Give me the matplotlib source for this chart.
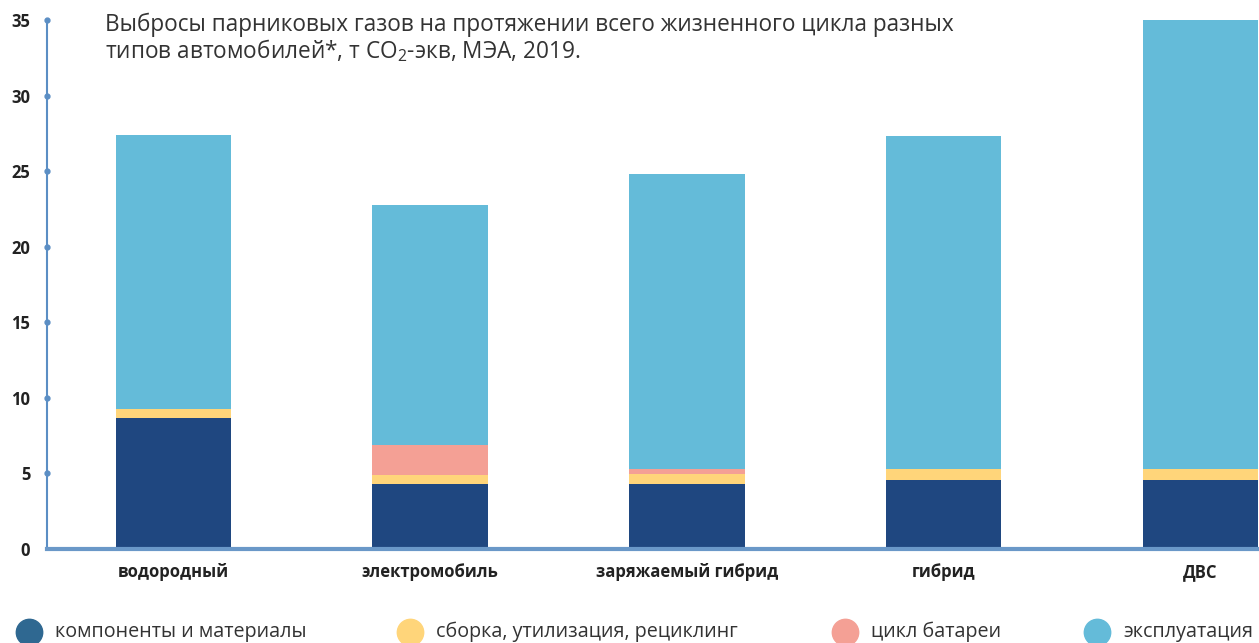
import matplotlib.pyplot as plt
import numpy as np

plt.rcParams['font.family'] = ['Open Sans', 'DejaVu Sans']
plt.rcParams['mathtext.default'] = 'regular'

categories = ["водородный", "электромобиль", "заряжаемый гибрид", "гибрид", "ДВС"]
components = [8.67, 4.30, 4.30, 4.57, 4.57]
assembly = [0.60, 0.60, 0.66, 0.73, 0.73]
battery = [0.00, 1.98, 0.34, 0.00, 0.00]
operation = [18.13, 15.89, 19.50, 22.03, 29.70]

series_names = ["компоненты и материалы", "сборка, утилизация, рециклинг",
                "цикл батареи", "эксплуатация"]
bar_colors = ["#1f4780", "#ffd57a", "#f4a095", "#64bbd9"]
legend_colors = ["#2f6891", "#ffd57a", "#f4a095", "#64bbd9"]

fig = plt.figure(figsize=(12.59, 6.43), dpi=100)
ax = fig.add_axes([47 / 1259, 1 - 549 / 643, 1 - 47 / 1259, (549 - 20) / 643])

x = np.arange(len(categories))
bottom = np.zeros(len(categories))
for vals, col in zip([components, assembly, battery, operation], bar_colors):
    ax.bar(x, vals, width=0.45, bottom=bottom, color=col, zorder=2)
    bottom += np.array(vals)

ax.set_xlim(-0.492, 4.228)
ax.set_ylim(0, 35)
ax.set_yticks(np.arange(0, 36, 5))
ax.set_xticks(x)
ax.set_xticklabels(categories, fontweight='bold', fontsize=12, color='#222222')
ax.tick_params(axis='y', length=0, pad=12, labelsize=12, labelcolor='#222222')
ax.tick_params(axis='x', length=0, pad=10)
for lab in ax.get_yticklabels():
    lab.set_fontweight('bold')

for s in ['top', 'right']:
    ax.spines[s].set_visible(False)
ax.spines['left'].set_color('#5b8ec4')
ax.spines['left'].set_linewidth(1.5)
ax.spines['bottom'].set_color('#6a98c8')
ax.spines['bottom'].set_linewidth(3)
ax.spines['bottom'].set_zorder(3)
ax.plot(np.zeros(7), np.arange(5, 36, 5), 'o', color='#5b8ec4', ms=3.5,
        transform=ax.get_yaxis_transform(), clip_on=False, zorder=3)

fig.text(105 / 1259, 1 - 13 / 643,
         "Выбросы парниковых газов на протяжении всего жизненного цикла разных\n"
         "типов автомобилей*, т CO$_2$-экв, МЭА, 2019.",
         fontsize=16.3, color='#333333', va='top', ha='left', linespacing=1.0)

leg_x = [29, 410, 845, 1097]
for lx, name, col in zip(leg_x, series_names, legend_colors):
    fig.lines.append(plt.Line2D([lx / 1259], [1 - 632 / 643], marker='o', ms=19,
                                color=col, transform=fig.transFigure, figure=fig))
    fig.text((lx + 26) / 1259, 1 - 632 / 643, name, fontsize=14.2,
             color='#333333', va='center', ha='left')

fig.savefig("out.png", dpi=100)
